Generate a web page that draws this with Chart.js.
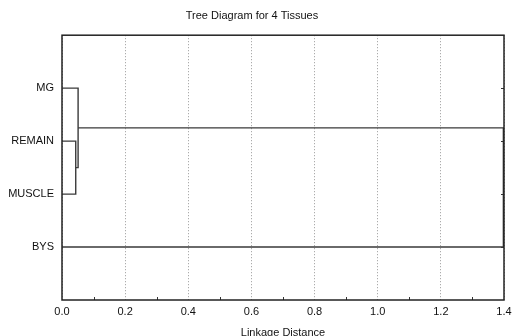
<!DOCTYPE html>
<html>
<head>
<meta charset="utf-8">
<script src="https://cdn.jsdelivr.net/npm/chart.js@4.4.0/dist/chart.umd.min.js"></script>
<style>
  html, body { margin: 0; padding: 0; background: #fff; }
  #wrap { width: 512px; height: 336px; }
</style>
</head>
<body>
<div id="wrap"><canvas id="tree" width="512" height="336"></canvas></div>
<script>
// leaves, top to bottom
const leaves = ['MG', 'REMAIN', 'MUSCLE', 'BYS'];
// merges: [left node, right node, linkage distance]; nodes >= leaves.length are earlier merges
const mergeA = [1, 0, 5];
const mergeB = [2, 4, 3];
const mergeDist = [0.0435, 0.051, 1.398];
const xTicks = [0.0, 0.2, 0.4, 0.6, 0.8, 1.0, 1.2, 1.4];

// node position: y = leaf row (1..n), x = height
const nodeY = leaves.map((_, i) => i + 1);
const nodeX = leaves.map(() => 0);
const linkSets = [];
mergeDist.forEach((d, k) => {
    const a = mergeA[k], b = mergeB[k];
    linkSets.push({
        data: [
            { x: nodeX[a], y: nodeY[a] },
            { x: d, y: nodeY[a] },
            { x: d, y: nodeY[b] },
            { x: nodeX[b], y: nodeY[b] }
        ],
        showLine: true,
        borderColor: '#3a3a3a',
        borderWidth: 1.4,
        pointRadius: 0,
        fill: false
    });
    nodeY.push((nodeY[a] + nodeY[b]) / 2);
    nodeX.push(d);
});

// frame and inner tick marks
const framePlugin = {
    id: 'frame',
    afterDraw(chart) {
        const { ctx, chartArea: a, scales } = chart;
        ctx.save();
        ctx.strokeStyle = '#333';
        ctx.lineWidth = 1;
        for (let v = 0.1; v < 1.4; v += 0.2) {
            const px = Math.round(scales.x.getPixelForValue(v)) + 0.5;
            ctx.beginPath();
            ctx.moveTo(px, a.bottom);
            ctx.lineTo(px, a.bottom - 3);
            ctx.stroke();
        }
        nodeY.slice(0, leaves.length).forEach(v => {
            const py = Math.round(scales.y.getPixelForValue(v)) + 0.5;
            ctx.beginPath();
            ctx.moveTo(a.right, py);
            ctx.lineTo(a.right - 3, py);
            ctx.stroke();
        });
        ctx.strokeStyle = '#222';
        ctx.lineWidth = 1.5;
        ctx.strokeRect(a.left, a.top, a.right - a.left, a.bottom - a.top);
        ctx.restore();
    }
};

new Chart(document.getElementById('tree'), {
    type: 'scatter',
    data: { datasets: linkSets },
    options: {
        responsive: false,
        animation: false,
        layout: { padding: { left: 0, right: 8, top: 0, bottom: 0 } },
        plugins: {
            legend: { display: false },
            tooltip: { enabled: false },
            title: {
                display: true,
                text: 'Tree Diagram for 4 Tissues',
                color: '#111',
                font: { family: 'Liberation Sans, Arial', size: 11, weight: 'normal' },
                padding: { top: 9, bottom: 13 }
            }
        },
        scales: {
            x: {
                type: 'linear',
                min: 0,
                max: 1.4,
                afterBuildTicks: s => { s.ticks = xTicks.map(v => ({ value: v })); },
                afterFit: s => { s.height = 36; s.paddingRight = 0; s.paddingLeft = 0; },
                ticks: {
                    color: '#111',
                    padding: 5,
                    maxRotation: 0,
                    font: { family: 'Liberation Sans, Arial', size: 11 },
                    callback: v => Number(v).toFixed(1)
                },
                grid: { color: '#999', drawTicks: false, tickBorderDash: [1, 2] },
                border: { display: false, dash: [1, 2] },
                title: {
                    display: true,
                    text: 'Linkage Distance',
                    color: '#111',
                    font: { family: 'Liberation Sans, Arial', size: 11 },
                    padding: { top: 6, bottom: -4 }
                }
            },
            y: {
                type: 'linear',
                min: 0,
                max: 5,
                reverse: true,
                afterBuildTicks: s => { s.ticks = nodeY.slice(0, leaves.length).map(v => ({ value: v })); },
                afterFit: s => { s.width = 62; },
                ticks: {
                    color: '#111',
                    padding: 8,
                    font: { family: 'Liberation Sans, Arial', size: 11 },
                    callback: v => leaves[v - 1] || ''
                },
                grid: { display: false, drawTicks: false },
                border: { display: false }
            }
        }
    },
    plugins: [framePlugin]
});
</script>
</body>
</html>
